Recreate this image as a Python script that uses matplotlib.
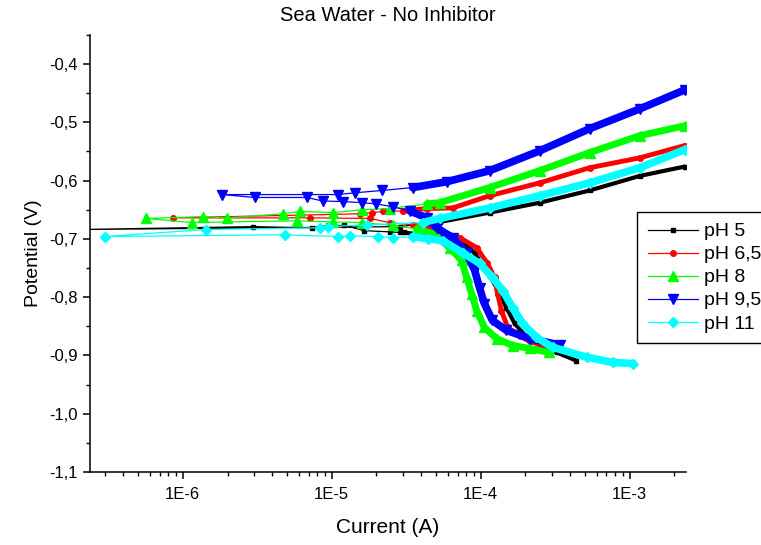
import numpy as np
import matplotlib.pyplot as plt
from matplotlib.ticker import MultipleLocator, FuncFormatter, LogLocator, NullFormatter

plt.rcParams['font.family'] = ['Liberation Sans', 'DejaVu Sans']

# each scan: cathodic branch -> points around Ecorr -> anodic branch
# current (A), potential (V)
i_ph5 = [4.40e-4, 3.24e-4, 2.61e-4, 2.04e-4, 1.69e-4, 1.49e-4, 1.28e-4, 1.10e-4, 9.12e-5, 7.57e-5, 6.01e-5,
         4.55e-5, 3.78e-5, 3.44e-5, 3.08e-5, 2.86e-5, 2.45e-5, 1.66e-5,
         1.22e-5, 9.40e-6, 7.34e-6, 2.95e-6, 2.0e-7,
         2.86e-5, 5.31e-5, 1.15e-4, 2.49e-4, 5.39e-4, 1.17e-3, 2.34e-3]
e_ph5 = [-0.909, -0.895, -0.886, -0.869, -0.845, -0.818, -0.784, -0.754, -0.725, -0.703, -0.698,
         -0.696, -0.695, -0.691, -0.689, -0.689, -0.688, -0.686,
         -0.677, -0.677, -0.681, -0.679, -0.684,
         -0.679, -0.671, -0.655, -0.638, -0.617, -0.592, -0.576]

i_ph65 = [3.14e-4, 2.13e-4, 1.83e-4, 1.52e-4, 1.38e-4, 1.30e-4, 1.24e-4, 1.11e-4, 9.40e-5, 7.23e-5,
          5.92e-5, 5.07e-5, 4.35e-5, 3.50e-5, 2.45e-5, 1.80e-5,
          7.11e-6, 8.6e-7,
          1.54e-5, 1.88e-5, 2.20e-5, 3.00e-5, 4.35e-5, 6.49e-5, 1.15e-4, 2.49e-4, 5.39e-4, 1.17e-3, 2.34e-3]
e_ph65 = [-0.888, -0.876, -0.866, -0.852, -0.823, -0.794, -0.766, -0.742, -0.715, -0.698,
          -0.691, -0.686, -0.681, -0.676, -0.672, -0.665,
          -0.664, -0.664,
          -0.657, -0.655, -0.653, -0.652, -0.648, -0.647, -0.626, -0.604, -0.578, -0.561, -0.540]

i_ph8 = [2.90e-4, 2.13e-4, 1.64e-4, 1.28e-4, 1.06e-4, 9.40e-5, 8.71e-5, 8.05e-5, 7.45e-5, 6.19e-5,
         4.77e-5, 3.72e-5, 2.57e-5, 1.61e-5, 1.02e-5, 5.82e-6,
         1.15e-6, 5.7e-7,
         1.36e-6, 1.97e-6, 4.69e-6, 6.10e-6, 1.02e-5, 1.61e-5, 2.45e-5, 4.35e-5, 5.31e-5,
         1.15e-4, 2.49e-4, 5.39e-4, 1.17e-3, 2.34e-3]
e_ph8 = [-0.895, -0.888, -0.883, -0.871, -0.852, -0.823, -0.794, -0.766, -0.737, -0.715,
         -0.691, -0.683, -0.677, -0.672, -0.671, -0.669,
         -0.672, -0.665,
         -0.662, -0.664, -0.657, -0.653, -0.655, -0.650, -0.648, -0.640, -0.638,
         -0.612, -0.583, -0.552, -0.523, -0.506]

i_ph95 = [3.39e-4, 2.13e-4, 1.49e-4, 1.20e-4, 1.06e-4, 9.84e-5, 9.12e-5, 8.05e-5, 6.49e-5, 5.07e-5,
          4.35e-5, 3.34e-5, 2.57e-5, 2.00e-5, 1.61e-5, 1.19e-5, 8.71e-6,
          6.79e-6, 3.04e-6, 1.85e-6,
          1.10e-5, 1.43e-5, 2.17e-5, 3.50e-5, 5.92e-5, 1.15e-4, 2.49e-4, 5.39e-4, 1.17e-3, 2.34e-3]
e_ph95 = [-0.882, -0.871, -0.857, -0.840, -0.811, -0.784, -0.754, -0.725, -0.698, -0.681,
          -0.664, -0.652, -0.645, -0.640, -0.638, -0.636, -0.635,
          -0.629, -0.629, -0.624,
          -0.624, -0.621, -0.617, -0.612, -0.602, -0.583, -0.549, -0.511, -0.477, -0.4445]

i_ph11 = [1.05e-3, 7.69e-4, 5.14e-4, 3.04e-4, 2.37e-4, 1.91e-4, 1.64e-4, 1.41e-4, 1.20e-4, 9.84e-5,
          7.57e-5, 5.56e-5, 4.41e-5, 3.50e-5, 2.57e-5, 2.04e-5, 1.32e-5, 1.10e-5, 4.84e-6,
          3.0e-7,
          1.43e-6, 8.30e-6, 9.40e-6, 1.72e-5, 4.08e-5, 5.31e-5, 1.15e-4, 2.49e-4, 5.39e-4, 1.17e-3, 2.34e-3]
e_ph11 = [-0.914, -0.912, -0.903, -0.886, -0.869, -0.845, -0.818, -0.789, -0.766, -0.742,
          -0.724, -0.703, -0.700, -0.696, -0.698, -0.696, -0.695, -0.696, -0.693,
          -0.696,
          -0.684, -0.681, -0.679, -0.676, -0.672, -0.665, -0.647, -0.626, -0.604, -0.578, -0.547]

labels = ['pH 5', 'pH 6,5', 'pH 8', 'pH 9,5', 'pH 11']
currents = [i_ph5, i_ph65, i_ph8, i_ph95, i_ph11]
potentials = [e_ph5, e_ph65, e_ph8, e_ph95, e_ph11]

colors = ['#000000', '#FF0000', '#00FF00', '#0000FF', '#00FFFF']
markers = ['s', 'o', '^', 'v', 'D']
msizes = [3, 4, 6.5, 6.5, 5.5]
bands = [3, 3.5, 5, 5.5, 5.5]   # thick part where the scan points are dense

fig = plt.figure(figsize=(7.61, 5.45), dpi=100)
ax = fig.add_axes([0.118, 0.134, 0.783, 0.802])

handles = []
for cur, pot, c, m, ms, bw, lab in zip(currents, potentials, colors, markers, msizes, bands, labels):
    cur = np.array(cur)
    pot = np.array(pot)
    dense = np.where(cur >= 3e-5, pot, np.nan)
    ax.plot(cur, dense, color=c, lw=bw, solid_capstyle='round', solid_joinstyle='round')
    h, = ax.plot(cur, pot, color=c, lw=0.9, marker=m, ms=ms, mec=c, mfc=c, label=lab)
    handles.append(h)

ax.set_xscale('log')
ax.set_xlim(2.38e-7, 2.38e-3)
ax.set_ylim(-1.1, -0.35)

ax.spines['top'].set_visible(False)
ax.spines['right'].set_visible(False)
for s in ['left', 'bottom']:
    ax.spines[s].set_linewidth(1.1)

ax.yaxis.set_major_locator(MultipleLocator(0.1))
ax.yaxis.set_minor_locator(MultipleLocator(0.05))
ax.yaxis.set_major_formatter(FuncFormatter(lambda v, p: '{:.1f}'.format(v).replace('.', ',')))
ax.xaxis.set_major_locator(LogLocator(base=10))
ax.xaxis.set_minor_locator(LogLocator(base=10, subs=np.arange(2, 10)))
ax.xaxis.set_major_formatter(FuncFormatter(lambda v, p: '1E{:d}'.format(int(round(np.log10(v))))))
ax.xaxis.set_minor_formatter(NullFormatter())

ax.tick_params(which='major', direction='out', length=5, width=1.1, labelsize=12)
ax.tick_params(axis='x', which='major', pad=6)
ax.tick_params(which='minor', direction='out', length=3, width=1.0)

ax.set_xlabel('Current (A)', fontsize=15, labelpad=11)
ax.set_ylabel('Potential (V)', fontsize=14, labelpad=5)
ax.set_title('Sea Water - No Inhibitor', fontsize=14.5, pad=10)

leg = fig.legend(handles=handles, loc='upper left', bbox_to_anchor=(0.837, 0.611),
                 bbox_transform=fig.transFigure, borderaxespad=0, fontsize=14,
                 handlelength=2.6, labelspacing=0.28, fancybox=False, framealpha=1,
                 edgecolor='black', borderpad=0.55, handletextpad=0.3)
leg.get_frame().set_linewidth(1.0)

fig.savefig('out.png', dpi=100)
